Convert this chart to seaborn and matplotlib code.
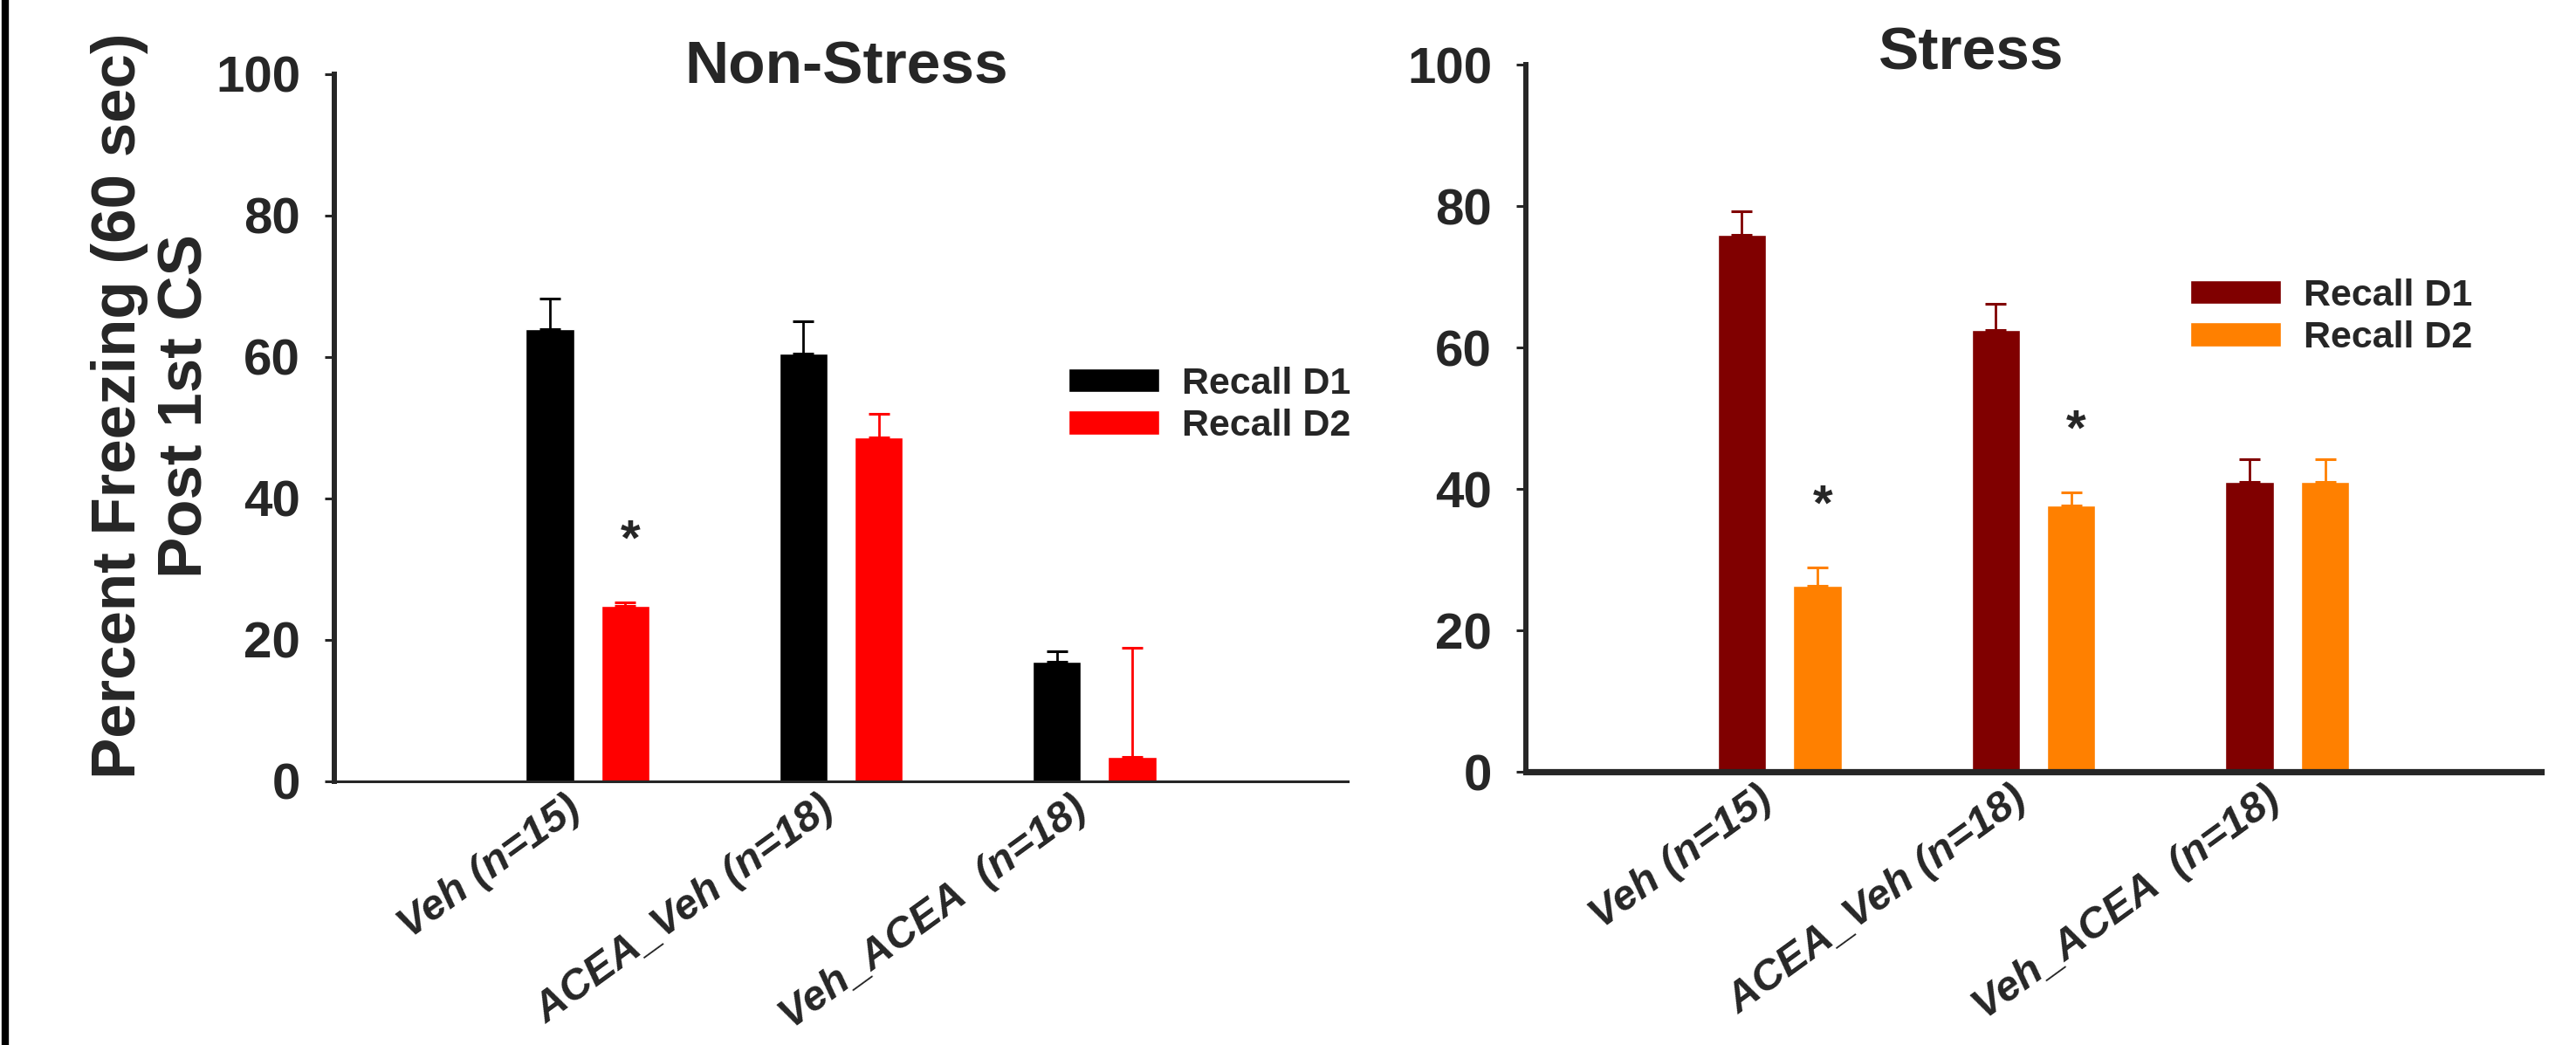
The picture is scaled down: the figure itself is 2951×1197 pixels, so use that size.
import matplotlib
matplotlib.use('Agg')
import matplotlib.pyplot as plt
import numpy as np
import pandas as pd
import seaborn as sns

groups = ['Veh (n=15)', 'ACEA_Veh (n=18)', 'Veh_ACEA  (n=18)']
days = ['Recall D1', 'Recall D2']

nonstress_d1 = [64.0, 60.5, 16.9]
nonstress_d1_sem = [4.3, 4.6, 1.5]
nonstress_d2 = [24.8, 48.7, 3.4]
nonstress_d2_sem = [0.5, 3.3, 15.5]

stress_d1 = [75.9, 62.5, 41.0]
stress_d1_sem = [3.3, 3.7, 3.2]
stress_d2 = [26.3, 37.6, 41.0]
stress_d2_sem = [2.6, 1.9, 3.2]

# significance marks (which D2 bar gets a star)
nonstress_star = [True, False, False]
stress_star = [True, True, False]

sns.set_style('ticks')
plt.rcParams['font.family'] = ['Liberation Sans', 'DejaVu Sans']
plt.rcParams['font.weight'] = 'bold'

W, H = 2951, 1197
fig = plt.figure(figsize=(W / 100, H / 100), dpi=100)
ax1 = fig.add_axes([383 / W, 1 - 895 / H, 1161 / W, 810 / H])
ax2 = fig.add_axes([1748 / W, 1 - 884 / H, 1163 / W, 810 / H])


def make_df(d1, d2):
    return pd.DataFrame({
        'group': groups * 2,
        'day': [days[0]] * 3 + [days[1]] * 3,
        'value': d1 + d2,
    })


def panel(ax, d1, d1_sem, d2, d2_sem, colors, stars, xlw, legend_anchor):
    df = make_df(d1, d2)
    sns.barplot(data=df, x='group', y='value', hue='day', order=groups, hue_order=days,
                palette=colors, saturation=1, width=0.596, gap=0.362, errorbar=None, ax=ax)
    for cont, sem, col in zip(ax.containers, [d1_sem, d2_sem], colors):
        xs = np.array([b.get_x() + b.get_width() / 2 for b in cont])
        ys = np.array([b.get_height() for b in cont])
        ax.errorbar(xs, ys, yerr=[np.zeros(len(sem)), sem], fmt='none', ecolor=col,
                    elinewidth=2, capsize=8.6, capthick=2.2, zorder=3)
    cont = ax.containers[1]
    for b, e, s in zip(cont, d2_sem, stars):
        if s:
            ax.text(b.get_x() + b.get_width() / 2 + 0.02, b.get_height() + e + 8.6, '*',
                    ha='center', va='center', fontsize=42, fontweight='bold')
    ax.set_xlim(-1, 3)
    ax.set_ylim(0, 100)
    ax.set_yticks([0, 20, 40, 60, 80, 100])
    ax.set_xlabel('')
    ax.set_ylabel('')
    sns.despine(ax=ax)
    ax.spines['left'].set_linewidth(4.3)
    ax.spines['bottom'].set_linewidth(xlw)
    ax.tick_params(axis='y', direction='out', length=8, width=2.2, labelsize=42, pad=20)
    ax.tick_params(axis='x', length=0, labelsize=35, pad=6)
    for lab in ax.get_xticklabels():
        lab.set_rotation(36)
        lab.set_ha('right')
        lab.set_rotation_mode('default')
        lab.set_fontstyle('italic')
        lab.set_fontweight('bold')
    ax.legend(frameon=False, loc='upper left', bbox_to_anchor=legend_anchor, fontsize=31,
              handlelength=2.42, handleheight=0.6, handletextpad=0.6, labelspacing=0.2,
              borderpad=0, borderaxespad=0)


panel(ax1, nonstress_d1, nonstress_d1_sem, nonstress_d2, nonstress_d2_sem,
      ['#000000', '#ff0000'], nonstress_star, 2.2, (0.724, 0.587))
panel(ax2, stress_d1, stress_d1_sem, stress_d2, stress_d2_sem,
      ['#800000', '#ff8000'], stress_star, 5.2, (0.654, 0.698))

fig.text(970 / W, 1 - 95 / H, 'Non-Stress', ha='center', va='baseline', fontsize=50, fontweight='bold')
fig.text(2258 / W, 1 - 80 / H, 'Stress', ha='center', va='baseline', fontsize=50, fontweight='bold')
fig.text(175 / W, 1 - 465 / H, 'Percent Freezing (60 sec)\nPost 1st CS', rotation=90,
         ha='center', va='center', fontsize=51, fontweight='bold', multialignment='center')

# frame line on the left edge
fig.add_artist(plt.Line2D([0.0022, 0.0022], [0, 1], transform=fig.transFigure,
                          color='black', linewidth=6))

fig.savefig('out.png', dpi=100)
